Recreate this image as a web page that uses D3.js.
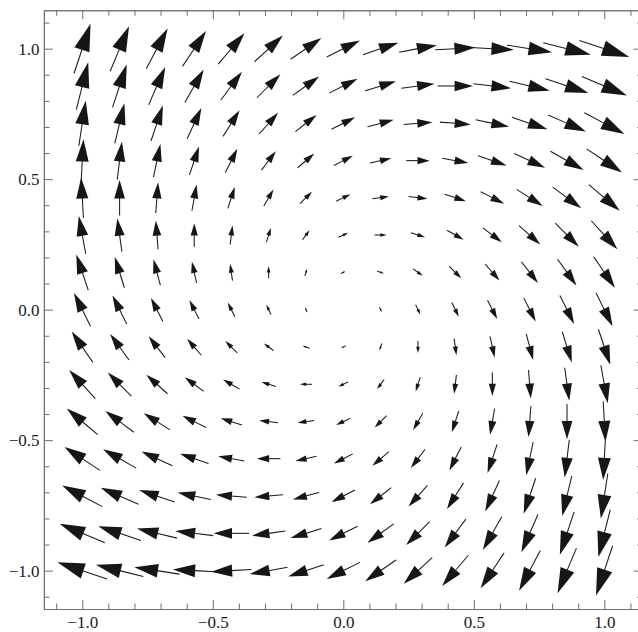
<!DOCTYPE html>
<html><head><meta charset="utf-8">
<script src="https://cdn.jsdelivr.net/npm/d3@7"></script>
<style>body{margin:0;background:#fff}svg{display:block}</style>
</head><body>
<svg id="c" width="638" height="632"></svg>
<script>
// grid of sample points (columns: x, rows: y from top to bottom)
const xs = [-1, -0.857, -0.714, -0.571, -0.429, -0.286, -0.143, 0, 0.143, 0.286, 0.429, 0.571, 0.714, 0.857, 1];
const ys = [1, 0.857, 0.714, 0.571, 0.429, 0.286, 0.143, 0, -0.143, -0.286, -0.429, -0.571, -0.714, -0.857, -1];

// horizontal component of each vector (row = ys[i], column = xs[j])
const U = [
  [0.5,0.57,0.64,0.71,0.79,0.86,0.93,1,1.07,1.14,1.21,1.29,1.36,1.43,1.5],
  [0.36,0.43,0.5,0.57,0.64,0.71,0.79,0.86,0.93,1,1.07,1.14,1.21,1.29,1.36],
  [0.21,0.29,0.36,0.43,0.5,0.57,0.64,0.71,0.79,0.86,0.93,1,1.07,1.14,1.21],
  [0.07,0.14,0.21,0.29,0.36,0.43,0.5,0.57,0.64,0.71,0.79,0.86,0.93,1,1.07],
  [-0.07,0,0.07,0.14,0.21,0.29,0.36,0.43,0.5,0.57,0.64,0.71,0.79,0.86,0.93],
  [-0.21,-0.14,-0.07,0,0.07,0.14,0.21,0.29,0.36,0.43,0.5,0.57,0.64,0.71,0.79],
  [-0.36,-0.29,-0.21,-0.14,-0.07,0,0.07,0.14,0.21,0.29,0.36,0.43,0.5,0.57,0.64],
  [-0.5,-0.43,-0.36,-0.29,-0.21,-0.14,-0.07,0,0.07,0.14,0.21,0.29,0.36,0.43,0.5],
  [-0.64,-0.57,-0.5,-0.43,-0.36,-0.29,-0.21,-0.14,-0.07,0,0.07,0.14,0.21,0.29,0.36],
  [-0.79,-0.71,-0.64,-0.57,-0.5,-0.43,-0.36,-0.29,-0.21,-0.14,-0.07,0,0.07,0.14,0.21],
  [-0.93,-0.86,-0.79,-0.71,-0.64,-0.57,-0.5,-0.43,-0.36,-0.29,-0.21,-0.14,-0.07,0,0.07],
  [-1.07,-1,-0.93,-0.86,-0.79,-0.71,-0.64,-0.57,-0.5,-0.43,-0.36,-0.29,-0.21,-0.14,-0.07],
  [-1.21,-1.14,-1.07,-1,-0.93,-0.86,-0.79,-0.71,-0.64,-0.57,-0.5,-0.43,-0.36,-0.29,-0.21],
  [-1.36,-1.29,-1.21,-1.14,-1.07,-1,-0.93,-0.86,-0.79,-0.71,-0.64,-0.57,-0.5,-0.43,-0.36],
  [-1.5,-1.43,-1.36,-1.29,-1.21,-1.14,-1.07,-1,-0.93,-0.86,-0.79,-0.71,-0.64,-0.57,-0.5]
];
// vertical component of each vector
const V = [
  [1.5,1.36,1.21,1.07,0.93,0.79,0.64,0.5,0.36,0.21,0.07,-0.07,-0.21,-0.36,-0.5],
  [1.43,1.29,1.14,1,0.86,0.71,0.57,0.43,0.29,0.14,0,-0.14,-0.29,-0.43,-0.57],
  [1.36,1.21,1.07,0.93,0.79,0.64,0.5,0.36,0.21,0.07,-0.07,-0.21,-0.36,-0.5,-0.64],
  [1.29,1.14,1,0.86,0.71,0.57,0.43,0.29,0.14,0,-0.14,-0.29,-0.43,-0.57,-0.71],
  [1.21,1.07,0.93,0.79,0.64,0.5,0.36,0.21,0.07,-0.07,-0.21,-0.36,-0.5,-0.64,-0.79],
  [1.14,1,0.86,0.71,0.57,0.43,0.29,0.14,0,-0.14,-0.29,-0.43,-0.57,-0.71,-0.86],
  [1.07,0.93,0.79,0.64,0.5,0.36,0.21,0.07,-0.07,-0.21,-0.36,-0.5,-0.64,-0.79,-0.93],
  [1,0.86,0.71,0.57,0.43,0.29,0.14,0,-0.14,-0.29,-0.43,-0.57,-0.71,-0.86,-1],
  [0.93,0.79,0.64,0.5,0.36,0.21,0.07,-0.07,-0.21,-0.36,-0.5,-0.64,-0.79,-0.93,-1.07],
  [0.86,0.71,0.57,0.43,0.29,0.14,0,-0.14,-0.29,-0.43,-0.57,-0.71,-0.86,-1,-1.14],
  [0.79,0.64,0.5,0.36,0.21,0.07,-0.07,-0.21,-0.36,-0.5,-0.64,-0.79,-0.93,-1.07,-1.21],
  [0.71,0.57,0.43,0.29,0.14,0,-0.14,-0.29,-0.43,-0.57,-0.71,-0.86,-1,-1.14,-1.29],
  [0.64,0.5,0.36,0.21,0.07,-0.07,-0.21,-0.36,-0.5,-0.64,-0.79,-0.93,-1.07,-1.21,-1.36],
  [0.57,0.43,0.29,0.14,0,-0.14,-0.29,-0.43,-0.57,-0.71,-0.86,-1,-1.14,-1.29,-1.43],
  [0.5,0.36,0.21,0.07,-0.07,-0.21,-0.36,-0.5,-0.64,-0.79,-0.93,-1.07,-1.21,-1.36,-1.5]
];

const majorTicks = [-1, -0.5, 0, 0.5, 1];
const majorLabels = ["\u22121.0", "\u22120.5", "0.0", "0.5", "1.0"];
const minorTicks = [-1.1, -0.9, -0.8, -0.7, -0.6, -0.4, -0.3, -0.2, -0.1, 0.1, 0.2, 0.3, 0.4, 0.6, 0.7, 0.8, 0.9, 1.1];

const svg = d3.select("#c");
svg.append("rect").attr("width", 638).attr("height", 632).attr("fill", "#fff");

const x = d3.scaleLinear().domain([-1.147, 1.147]).range([43.9, 642.7]);
const y = d3.scaleLinear().domain([-1.147, 1.147]).range([609, 10.3]);

// arrow length (px) per vector magnitude
const maxMag = d3.max(U.flatMap((row, i) => row.map((u, j) => Math.hypot(u, V[i][j]))));
const len = d3.scaleLinear().domain([0, maxMag]).range([0, 52.4]);

const frameColor = "#6e6e6e";
const fmt = v => majorLabels[majorTicks.indexOf(v)];

function styleAxis(g) {
  g.attr("font-family", null).attr("font-size", null);
  g.selectAll(".domain").attr("stroke", frameColor).attr("stroke-width", 1.1);
  g.selectAll(".tick line").attr("stroke", frameColor).attr("stroke-width", 1);
  g.selectAll(".tick text")
    .attr("fill", "#1a1a1a")
    .style("font-family", "\"Liberation Serif\", serif")
    .style("font-size", "17px");
}

function makeAxis(kind, scale, transform, text) {
  const major = d3[kind](scale).tickValues(majorTicks).tickSizeInner(-9).tickSizeOuter(0)
    .tickPadding(kind === "axisBottom" ? 6.9 : 4.4)
    .tickFormat(text ? fmt : () => "");
  const minor = d3[kind](scale).tickValues(minorTicks).tickSizeInner(-5.5).tickSizeOuter(0)
    .tickFormat(() => "");
  const g1 = svg.append("g").attr("transform", transform).call(minor);
  styleAxis(g1);
  g1.selectAll(".tick text").remove();
  const g2 = svg.append("g").attr("transform", transform).call(major);
  styleAxis(g2);
  if (!text) g2.selectAll(".tick text").remove();
}
makeAxis("axisBottom", x, `translate(0,${y.range()[0]})`, true);
makeAxis("axisTop", x, `translate(0,${y.range()[1]})`, false);
makeAxis("axisLeft", y, `translate(${x.range()[0]},0)`, true);
makeAxis("axisRight", y, `translate(${x.range()[1]},0)`, false);

// vectors
const arrows = [];
ys.forEach((yv, i) => xs.forEach((xv, j) => {
  const u = U[i][j], v = V[i][j];
  const m = Math.hypot(u, v);
  if (m > 0) arrows.push({xv, yv, u, v, m});
}));

const ga = svg.append("g");
arrows.forEach(d => {
  const cx = x(d.xv), cy = y(d.yv);
  const ex = x(d.xv + d.u) - cx, ey = y(d.yv + d.v) - cy;
  const el = Math.hypot(ex, ey);
  const dx = ex / el, dy = ey / el;
  const L = len(d.m);
  const tx = cx - dx * L / 2, ty = cy - dy * L / 2;
  const px = cx + dx * L / 2, py = cy + dy * L / 2;
  const h = 0.52 * L, hw = 0.29 * h;
  const bx = px - dx * h, by = py - dy * h;
  const nx = -dy, ny = dx;
  ga.append("line")
    .attr("x1", tx).attr("y1", ty)
    .attr("x2", bx + dx * 1).attr("y2", by + dy * 1)
    .attr("stroke", "#1a1a1a").attr("stroke-width", 1.05);
  ga.append("path")
    .attr("d", `M${px},${py}L${bx + nx * hw},${by + ny * hw}L${bx - nx * hw},${by - ny * hw}Z`)
    .attr("fill", "#161616");
});
</script>
</body></html>
